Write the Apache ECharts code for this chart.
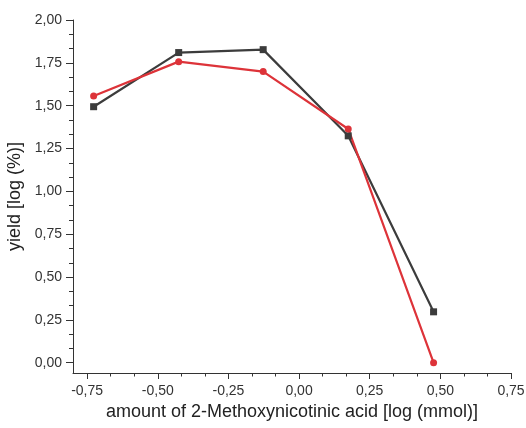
<!DOCTYPE html>
<html>
<head>
<meta charset="utf-8">
<script src="https://cdn.jsdelivr.net/npm/echarts@6/dist/echarts.min.js"></script>
<style>
  html, body { margin: 0; padding: 0; background: #fff; }
  #chart { width: 526px; height: 428px; }
</style>
</head>
<body>
<div id="chart"></div>
<script>
// log10 of the acid amount (mmol)
const xValues = [-0.727, -0.426, -0.127, 0.174, 0.476];
// log10 of the yield (%) for the two runs
const yieldBlack = [1.494, 1.810, 1.827, 1.324, 0.297];
const yieldRed = [1.557, 1.757, 1.699, 1.364, 0.000];

const xMajorTicks = [-0.75, -0.5, -0.25, 0, 0.25, 0.5, 0.75];
const yMajorTicks = [0, 0.25, 0.5, 0.75, 1, 1.25, 1.5, 1.75, 2];

// minor ticks: two between each pair of major ticks
function minorBetween(majors) {
  const out = [];
  for (let i = 0; i < majors.length - 1; i++) {
    const step = (majors[i + 1] - majors[i]) / 3;
    out.push(majors[i] + step, majors[i] + 2 * step);
  }
  return out;
}

const fmt = v => v.toFixed(2).replace('.', ',');

const X_MIN = -0.8, X_MAX = 0.75, Y_MIN = -0.06, Y_MAX = 2.0;
const axisColor = '#333';
const fontFamily = '"Liberation Sans", Arial, sans-serif';

const chart = echarts.init(document.getElementById('chart'));
chart.setOption({
  animation: false,
  grid: { left: 73, right: 15, top: 20, bottom: 55, containLabel: false, outerBoundsMode: 'none' },
  xAxis: [
    {
      type: 'value', min: X_MIN, max: X_MAX, position: 'bottom',
      name: 'amount of 2-Methoxynicotinic acid [log (mmol)]',
      nameLocation: 'middle', nameGap: 30,
      nameTextStyle: { fontSize: 18, color: '#222', fontFamily },
      axisLine: { show: true, onZero: false, lineStyle: { color: axisColor, width: 1 } },
      axisTick: { show: true, inside: false, length: 6, customValues: xMajorTicks, lineStyle: { color: axisColor } },
      axisLabel: { customValues: xMajorTicks, formatter: fmt, fontSize: 14, color: '#333', margin: 11, fontFamily },
      splitLine: { show: false }
    },
    {
      type: 'value', min: X_MIN, max: X_MAX, position: 'bottom',
      axisLine: { show: false, onZero: false },
      axisTick: { show: true, inside: false, length: 3.5, customValues: minorBetween(xMajorTicks), lineStyle: { color: axisColor } },
      axisLabel: { show: false },
      splitLine: { show: false }
    }
  ],
  yAxis: [
    {
      type: 'value', min: Y_MIN, max: Y_MAX, position: 'left',
      name: 'yield [log (%)]',
      nameLocation: 'middle', nameGap: 40, nameRotate: 90,
      nameTextStyle: { fontSize: 18, color: '#222', fontFamily },
      axisLine: { show: true, onZero: false, lineStyle: { color: axisColor, width: 1 } },
      axisTick: { show: true, inside: false, length: 7, customValues: yMajorTicks, lineStyle: { color: axisColor } },
      axisLabel: { customValues: yMajorTicks, formatter: fmt, fontSize: 14, color: '#333', margin: 11, fontFamily },
      splitLine: { show: false }
    },
    {
      type: 'value', min: Y_MIN, max: Y_MAX, position: 'left',
      axisLine: { show: false, onZero: false },
      axisTick: { show: true, inside: false, length: 4, customValues: minorBetween(yMajorTicks), lineStyle: { color: axisColor } },
      axisLabel: { show: false },
      splitLine: { show: false }
    }
  ],
  series: [
    {
      type: 'line', xAxisIndex: 0, yAxisIndex: 0,
      data: xValues.map((x, i) => [x, yieldBlack[i]]),
      symbol: 'rect', symbolSize: 7,
      lineStyle: { color: '#3c3c3c', width: 2.2 },
      itemStyle: { color: '#3c3c3c' }
    },
    {
      type: 'line', xAxisIndex: 0, yAxisIndex: 0,
      data: xValues.map((x, i) => [x, yieldRed[i]]),
      symbol: 'circle', symbolSize: 7,
      lineStyle: { color: '#dd3339', width: 2.2 },
      itemStyle: { color: '#dd3339' }
    }
  ]
});
</script>
</body>
</html>
